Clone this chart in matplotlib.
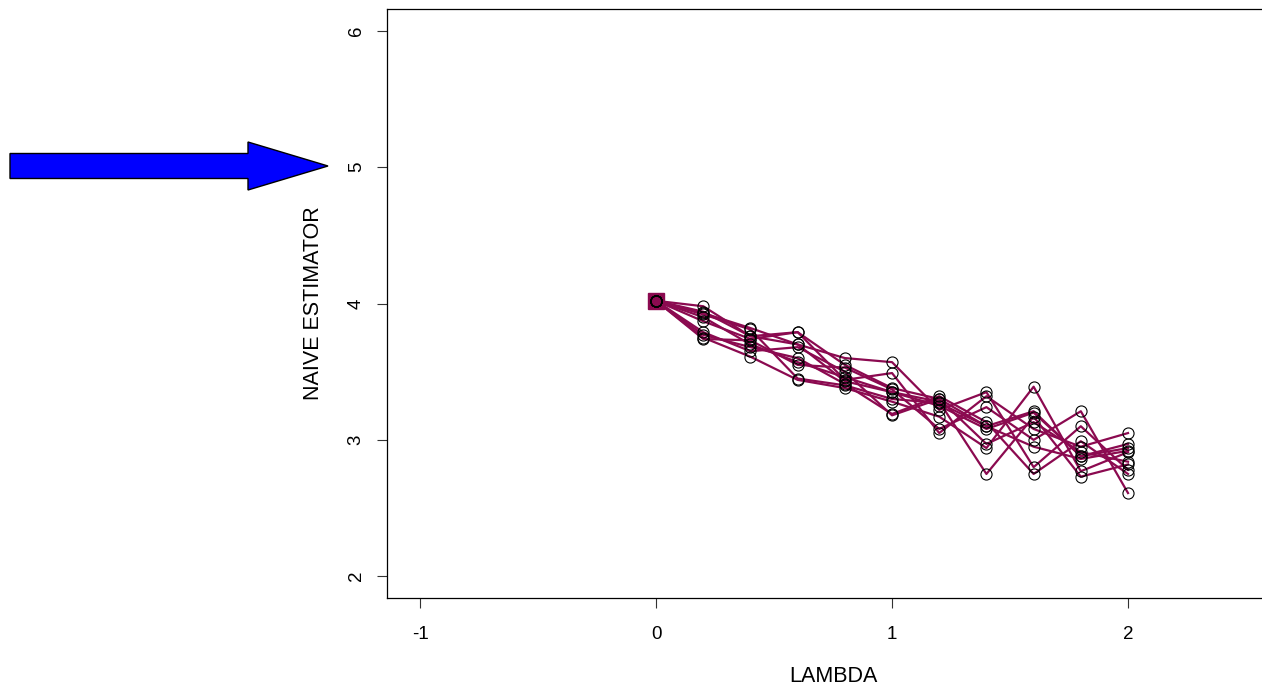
import numpy as np
import matplotlib
matplotlib.use('Agg')
from matplotlib import pyplot as plt
from matplotlib.patches import FancyArrow

plt.rcParams['font.family'] = ['Liberation Sans', 'DejaVu Sans']

LAMBDAS = [0.0, 0.2, 0.4, 0.6, 0.8, 1.0, 1.2, 1.4, 1.6, 1.8, 2.0]

# naive estimates, one row per simulated path
PATHS = [
  [4.02, 3.98, 3.76, 3.79, 3.55, 3.38, 3.30, 3.10, 3.21, 2.88, 2.94],
  [4.02, 3.93, 3.82, 3.70, 3.60, 3.57, 3.22, 3.35, 2.80, 3.10, 2.78],
  [4.02, 3.90, 3.70, 3.57, 3.46, 3.35, 3.28, 2.75, 3.17, 2.73, 2.82],
  [4.02, 3.87, 3.74, 3.79, 3.44, 3.49, 3.05, 3.32, 3.08, 2.95, 3.05],
  [4.02, 3.77, 3.68, 3.60, 3.41, 3.19, 3.32, 3.13, 2.75, 2.99, 2.75],
  [4.02, 3.75, 3.61, 3.44, 3.38, 3.28, 3.17, 2.94, 3.39, 2.77, 2.91],
  [4.02, 3.74, 3.73, 3.55, 3.53, 3.37, 3.08, 3.24, 3.00, 3.21, 2.61],
  [4.02, 3.79, 3.65, 3.68, 3.50, 3.18, 3.30, 2.97, 3.13, 2.91, 2.84],
  [4.02, 3.94, 3.76, 3.70, 3.43, 3.35, 3.25, 3.08, 3.20, 2.88, 2.97],
  [4.02, 3.92, 3.81, 3.45, 3.40, 3.30, 3.27, 3.10, 2.95, 2.86, 2.92],
]

X_TICKS = [-1, 0, 1, 2]
Y_TICKS = [2, 3, 4, 5, 6]
LINE_COLOR = '#8B0A50'

fig = plt.figure(figsize=(12.62, 6.90), dpi=100)
ax = fig.add_axes([0.3067, 0.1333, 0.7068, 0.8536])

for path in PATHS:
  ax.plot(LAMBDAS, path, color=LINE_COLOR, lw=1.6, zorder=2)
for path in PATHS:
  ax.plot(LAMBDAS, path, ls='none', marker='o', ms=8, mfc='none',
          mec='black', mew=0.8, zorder=3)

# starting point marker
ax.plot([LAMBDAS[0]], [PATHS[0][0]], marker='s', ms=11, color=LINE_COLOR,
        ls='none', zorder=1)

ax.set_xlim(-1.14, 2.64)
ax.set_ylim(1.84, 6.16)
ax.set_xticks(X_TICKS)
ax.set_yticks(Y_TICKS)
ax.set_xticklabels([str(v) for v in X_TICKS], fontsize=13.5)
ax.set_yticklabels([str(v) for v in Y_TICKS], fontsize=13.5, rotation=90, va='center')
ax.tick_params(axis='both', direction='out', length=7, width=0.8, color='#333333')
ax.tick_params(axis='x', pad=13)
ax.tick_params(axis='y', pad=9)
for s in ax.spines.values():
  s.set_linewidth(0.9)
ax.set_xlabel('LAMBDA', fontsize=15.5, labelpad=17)
ax.set_ylabel('NAIVE ESTIMATOR', fontsize=15.5, labelpad=17)

# big blue pointer on the left
fig.add_artist(FancyArrow(10 / 1262, 1 - 166 / 690, 318 / 1262, 0,
                          width=25 / 690, head_width=48 / 690, head_length=80 / 1262,
                          length_includes_head=True, transform=fig.transFigure,
                          facecolor='#0000FF', edgecolor='black', lw=1.0))

fig.savefig('out.png', dpi=100)
